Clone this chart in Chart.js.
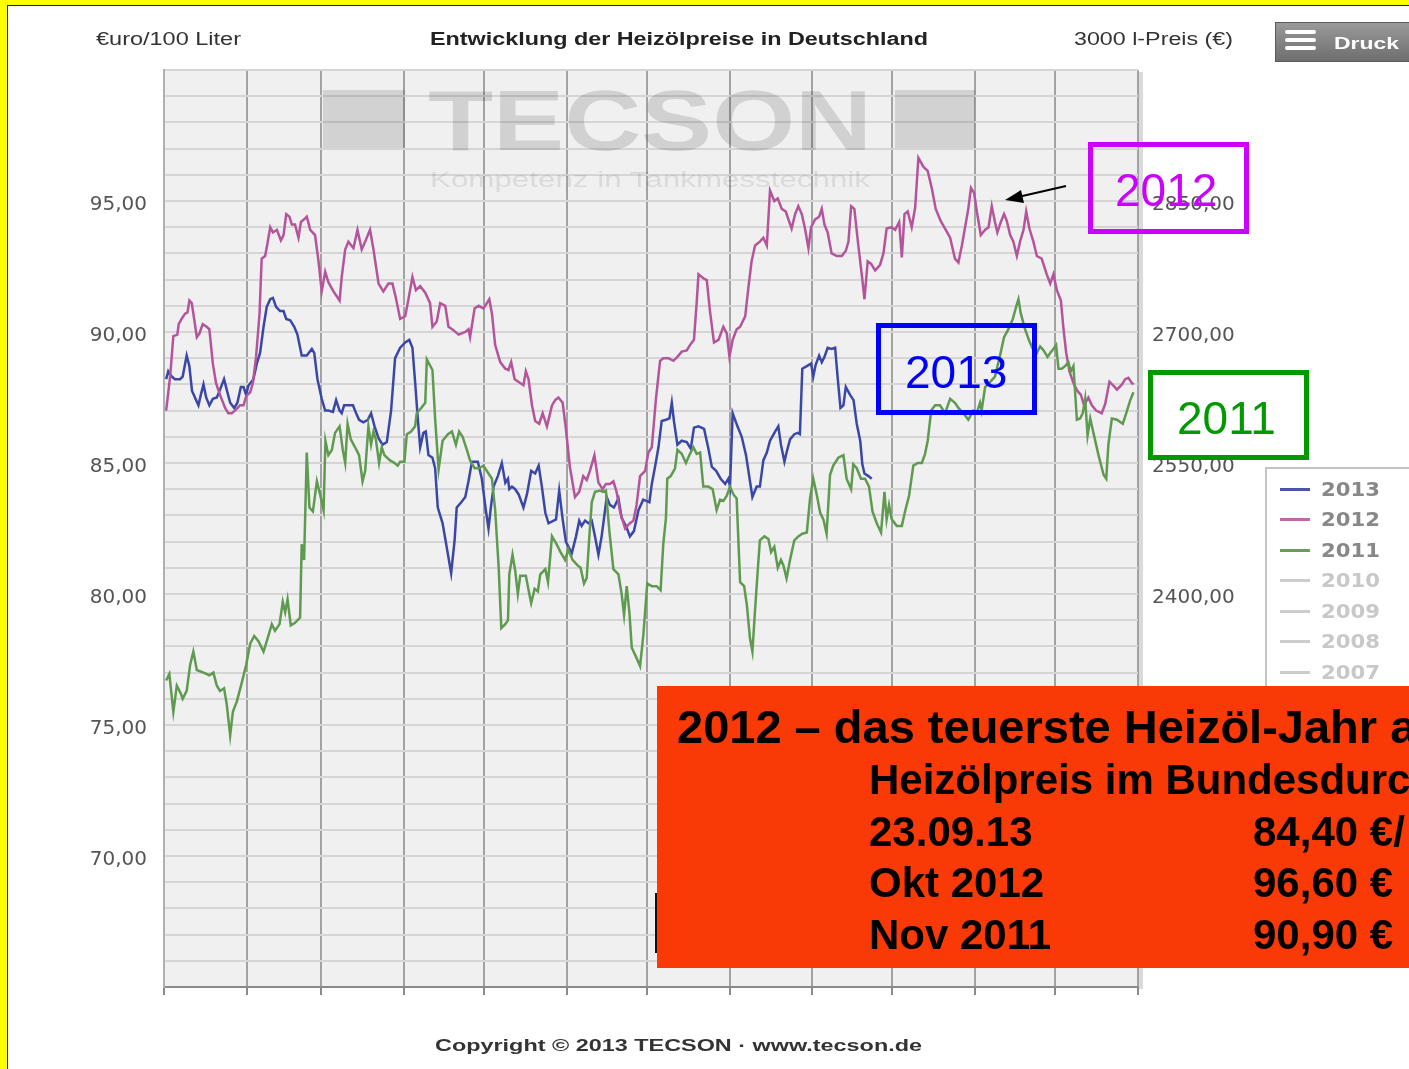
<!DOCTYPE html>
<html>
<head>
<meta charset="utf-8">
<script src="https://cdn.jsdelivr.net/npm/chart.js@4.4.0/dist/chart.umd.min.js"></script>
<style>
html,body{margin:0;padding:0;background:#fff;overflow:hidden;}
#wrap{position:relative;width:1409px;height:1069px;overflow:hidden;background:#fff;}
#chart{position:absolute;left:0;top:0;}
#layer{position:absolute;left:0;top:0;width:1409px;height:1069px;pointer-events:none;}
.abs{position:absolute;}
</style>
</head>
<body>
<div id="wrap">
  <canvas id="chart" width="1409" height="1069"></canvas>
  <div id="layer"></div>
</div>
<script>
// ---------------- data ----------------
const monthStarts = [0, 31, 59, 90, 120, 151, 181, 212, 243, 273, 304, 334, 365];
const leftLabelValues = [70, 75, 80, 85, 90, 95];
const rightLabelValues = [2100, 2250, 2400, 2550, 2700, 2850];
const legendYears = ['2013', '2012', '2011', '2010', '2009', '2008', '2007'];

// [day of year, €/100 l]
const series2013 = [[0.8,88.2],[1.6,88.5],[2.9,88.3],[4.1,88.2],[6,88.2],[7,88.3],[8.5,89.1],[9.5,88.7],[10.5,87.75],[11.6,87.5],[12.9,87.2],[13.8,87.6],[14.8,88.0],[15.8,87.5],[17,87.2],[18.3,87.45],[19.8,87.5],[21,87.8],[22.5,88.2],[23.5,87.8],[24.8,87.3],[26.3,87.1],[27.5,87.3],[28.8,87.9],[29.8,87.9],[30.8,87.6],[31.6,87.95],[33.5,88.2],[34.8,88.8],[36,89.2],[37.3,90.2],[38.5,90.96],[39.8,91.25],[40.8,91.3],[42,90.96],[43.5,90.8],[44.8,90.8],[45.8,90.5],[47.3,90.45],[48.8,90.2],[50,89.9],[51.6,89.1],[53.5,89.1],[55.4,89.35],[56.3,89.2],[57.5,88.2],[59.1,87.45],[60.4,87.0],[61.6,87.0],[63.3,86.95],[64.5,87.4],[65.8,87.0],[66.6,86.9],[67.5,87.2],[69.1,87.2],[70.8,87.2],[72,86.9],[73.1,86.65],[74.7,86.55],[76.4,86.65],[77.6,86.9],[78.9,86.4],[80.4,85.95],[81.9,85.7],[83.5,85.8],[85.1,87.0],[86.6,89.0],[88.5,89.4],[90.4,89.6],[91.9,89.7],[93.1,89.4],[94.1,88.1],[95.1,86.7],[96,85.6],[97.2,86.15],[98.1,86.2],[99.1,85.3],[100.6,85.2],[101.6,84.8],[102.6,83.3],[104.4,82.7],[106,81.75],[107.6,80.8],[108.9,82.05],[109.7,83.3],[111.4,83.5],[112.9,83.7],[114.1,84.3],[115.4,85.05],[117.6,85.05],[119.1,84.4],[120.6,83.2],[121.6,82.5],[122.6,83.4],[123.5,84.1],[125.1,84.5],[126.6,85.0],[127.9,84.25],[128.9,84.4],[129.4,84.0],[130.4,84.1],[131.6,84.0],[132.9,83.8],[134.7,83.3],[136,83.8],[137.6,84.7],[139.1,84.6],[140.4,84.9],[141.6,84.1],[142.9,83.1],[144.1,82.7],[146.9,82.85],[148.1,83.95],[149.4,82.85],[150.6,82.0],[152.8,81.55],[154.4,82.2],[155.6,82.8],[156.5,82.6],[157.8,82.8],[159,82.7],[160.3,82.8],[161.5,82.2],[162.8,81.5],[164,82.2],[164.9,82.9],[165.9,83.7],[167.1,83.4],[168.6,83.3],[170.3,83.65],[171.5,82.9],[173.1,82.6],[174.6,82.2],[176.1,82.4],[177.8,83.2],[179.6,83.6],[181.9,83.5],[182.8,84.2],[184,84.85],[185.3,85.6],[186.5,86.6],[188.1,86.65],[189.4,86.7],[190.3,87.3],[191.1,86.6],[192.4,85.7],[194,85.85],[195.9,85.8],[197.4,85.55],[198.6,86.35],[200.3,86.4],[202.4,86.3],[204,85.55],[205.3,84.85],[206.9,84.7],[208.6,84.4],[210.3,84.2],[211.5,84.4],[212.1,84.1],[213.1,86.9],[214.9,86.4],[216.5,86.0],[218.1,85.3],[219,84.7],[220.5,83.7],[222.1,84.1],[223.3,84.1],[224.6,85.1],[225.9,85.4],[227.1,85.85],[229,86.2],[230.2,86.4],[231.2,85.7],[232.5,85.05],[233.3,85.4],[234.6,85.9],[236.2,86.1],[237.5,86.15],[238.3,86.1],[239.2,88.6],[240.9,88.7],[242.5,88.8],[243.3,88.3],[244.2,88.75],[245.5,89.1],[246.5,88.85],[247.5,89.05],[248.7,89.4],[250.2,89.35],[251.5,89.4],[252.5,88.2],[253.5,87.1],[254.6,87.2],[255.5,87.9],[257.1,87.6],[258.4,87.4],[259.6,86.5],[260.9,85.85],[261.7,84.95],[262.5,84.6],[264,84.5],[265.2,84.4]];

const series2012 = [[0.8,87.0],[2.3,88.3],[3.5,89.84],[5,89.9],[5.5,90.3],[6.6,90.5],[7.9,90.7],[8.8,90.75],[9.5,91.2],[10.4,91.1],[11,90.7],[12.3,89.8],[13.3,89.95],[14.5,90.3],[16,90.2],[17,90.1],[18.3,88.8],[19.5,88.05],[21,87.6],[22.9,87.1],[24.1,86.9],[25.4,86.9],[26.6,87.0],[28.5,87.2],[29.8,87.2],[30.8,87.55],[32.3,87.7],[33.3,88.05],[34.5,89.05],[35.8,90.7],[36.6,92.8],[37.9,92.9],[38.8,93.4],[39.8,94.0],[40.8,93.8],[42.3,93.9],[43.8,93.5],[44.8,93.7],[45.8,94.5],[47,94.4],[47.9,94.1],[49.1,94.1],[50.4,93.6],[51.3,94.2],[52.5,94.3],[53.5,94.4],[54.8,93.9],[56.6,93.7],[57.9,92.7],[59.1,91.55],[60.4,92.3],[61.6,91.9],[63.5,91.55],[65.8,91.2],[66.6,92.1],[67.9,93.15],[69.1,93.45],[71,93.2],[72.5,93.9],[74.1,93.15],[75.4,93.45],[77.2,93.9],[78.5,93.15],[80.4,91.85],[82.2,91.55],[84.1,91.85],[85.6,91.85],[86.9,91.3],[88.5,90.5],[90.4,90.6],[91.6,91.25],[93.1,92.1],[94.4,91.6],[96,91.75],[97.9,91.5],[99.7,91.1],[100.6,90.2],[102.2,90.4],[103.5,91.1],[105.4,91.0],[106.6,90.2],[108.1,90.1],[110.4,89.9],[112.9,90.0],[114.1,90.1],[114.7,89.8],[116.4,90.9],[117.9,91.0],[119.7,90.9],[121,91.1],[121.9,91.25],[122.9,90.7],[124.1,89.5],[126,88.85],[127.9,88.6],[129.1,88.55],[130.1,88.85],[131.4,88.2],[133.5,88.05],[134.7,87.97],[135.6,88.5],[136.6,88.2],[137.9,87.2],[139.1,86.6],[140.6,86.5],[141.9,86.9],[143.5,86.4],[145.4,87.2],[146.6,87.4],[147.8,87.5],[149.4,87.3],[150.6,86.3],[152.1,84.85],[154,83.7],[155.6,83.9],[157.1,84.5],[158.4,84.35],[159.6,84.7],[161.3,85.3],[162.8,84.25],[164.4,84.0],[165.6,84.2],[167.1,84.2],[168.4,84.3],[169.6,83.9],[170.9,83.15],[172.8,82.5],[174.6,82.7],[175.9,82.8],[177.1,83.4],[178.4,84.5],[180.3,84.7],[181.5,85.4],[182.8,85.6],[184.4,87.5],[185.9,88.9],[187.1,89.0],[189,89.0],[190.9,88.9],[192.4,89.05],[194,89.25],[195.9,89.3],[197.1,89.5],[198.6,89.7],[199.6,91.1],[200.3,92.2],[202.1,92.05],[203.4,91.98],[204.6,90.8],[206.1,89.6],[207.8,89.7],[209.6,90.2],[210.9,89.95],[211.9,89.05],[213.1,89.7],[214.6,90.1],[215.9,90.2],[217.8,90.6],[219,91.7],[220.2,92.7],[221.5,93.3],[223.3,93.45],[224.6,93.6],[225.9,93.3],[227.1,95.4],[228.7,95.0],[230,95.1],[231.5,94.7],[233,94.6],[234,94.3],[235.2,93.95],[236.5,94.5],[237.7,94.8],[239,94.5],[240.2,93.95],[241.5,93.2],[242.5,94.0],[244,94.3],[245.5,94.4],[246.5,94.7],[247.5,94.1],[248.7,93.8],[250.2,93.0],[252.1,92.9],[254,92.9],[255.5,93.1],[256.5,93.45],[257.5,94.8],[258.7,94.7],[260.2,93.3],[261.7,92.0],[262.5,91.25],[263.7,92.7],[265,92.6],[266.5,92.35],[268.3,92.55],[269.6,93.0],[270.8,93.95],[272.7,94.0],[274,93.9],[275.5,94.2],[276.5,92.85],[277.5,94.5],[278.7,94.6],[280.2,94.0],[281.5,94.75],[282.7,96.65],[284.6,96.3],[286.2,96.15],[287.7,95.5],[289.2,94.7],[291,94.25],[292.7,93.95],[294.6,93.6],[296.4,92.8],[297.7,92.65],[299,93.3],[300.2,94.0],[301.4,94.7],[302.4,95.5],[303.6,95.3],[304.6,94.6],[306.1,93.7],[307.7,93.9],[309,94.0],[310.2,94.8],[311.4,94.2],[312.3,93.8],[313.6,94.2],[314.8,94.5],[315.8,94.25],[317.1,93.7],[318.3,93.45],[319.6,92.9],[320.8,93.45],[322.1,93.9],[323.1,94.6],[324.3,93.95],[325.8,93.45],[327.1,92.9],[328.9,92.8],[330.8,92.2],[332.1,91.85],[333.3,92.2],[334.6,91.6],[336.1,91.2],[337.1,90.1],[338.1,89.2],[339.3,88.5],[340.8,88.05],[342.3,87.75],[343.6,87.6],[344.8,87.2],[346.4,87.5],[347.7,87.2],[349.3,87.0],[351.4,86.9],[352.7,87.25],[354.3,88.1],[355.8,87.95],[357.1,87.8],[359,88.0],[360.2,88.2],[361.4,88.25],[362.7,88.05],[363.3,88.0]];

const series2011 = [[0.8,76.7],[2,76.95],[3.5,75.5],[4.8,76.5],[6.3,76.2],[7,76.0],[8.5,76.3],[9.8,77.3],[11,77.8],[12.3,77.1],[14.8,77.0],[17,76.9],[18.5,77.0],[19.8,76.5],[21,76.3],[22.5,76.4],[23.5,75.8],[24.8,74.6],[25.8,75.5],[27.3,75.9],[29.1,76.6],[30.8,77.3],[32.3,78.1],[33.8,78.4],[35.4,78.2],[37.3,77.8],[38.8,78.3],[40.4,78.85],[41.6,78.6],[43.3,78.85],[44.5,79.7],[45.4,79.3],[46.3,79.8],[47.5,78.8],[49.1,78.9],[51,79.1],[51.6,81.9],[52.5,81.3],[53.5,85.4],[54.5,83.3],[55.8,83.15],[57.3,84.3],[58.5,83.8],[59.8,83.2],[60.5,85.85],[61.6,85.3],[62.9,85.5],[64.1,86.15],[65.8,86.4],[67,85.5],[67.9,85.0],[68.8,86.5],[70,85.9],[71.6,85.6],[73.1,85.3],[74.4,84.3],[75.4,84.7],[76.6,86.4],[77.6,85.7],[78.5,86.2],[79.4,85.9],[80.6,85.0],[81.6,85.6],[82.6,85.3],[84.7,85.1],[86.4,85.0],[87.6,84.9],[88.5,85.05],[90.1,85.05],[91,86.1],[92.6,86.2],[94.1,86.4],[94.7,86.9],[96.4,87.1],[97.9,87.3],[98.5,88.95],[100.6,88.55],[101.6,86.7],[102.9,84.75],[104.4,85.85],[106.4,86.1],[107.9,86.2],[109.4,85.7],[110.6,86.2],[111.9,86.0],[113.5,85.5],[114.7,85.1],[116.4,84.8],[118.1,84.8],[119.7,84.9],[121.6,84.6],[122.9,84.4],[124.1,83.2],[125.4,81.05],[126.4,78.7],[127.9,78.85],[128.9,79.0],[129.4,80.75],[130.6,81.5],[131.6,80.9],[132.6,80.0],[133.5,80.7],[135.6,80.7],[136.9,80.0],[137.6,79.65],[138.9,80.2],[140.1,80.1],[141,80.75],[142.9,80.95],[143.9,80.45],[145.4,82.2],[147.1,81.9],[148.6,81.6],[150.3,81.3],[151.5,81.7],[153.1,81.3],[154.9,81.1],[156.1,81.0],[157.4,80.4],[158.4,80.6],[159.4,82.2],[160.3,83.5],[161.5,83.9],[163.4,83.95],[164.6,83.9],[165.6,83.95],[166.9,82.4],[168.4,80.95],[170.3,80.75],[171.5,80.0],[172.4,79.2],[173.4,80.3],[174.4,79.3],[175.3,77.95],[176.9,77.6],[178.4,77.25],[179.6,78.4],[181.1,80.4],[182.8,80.3],[184.6,80.3],[186.1,80.15],[187.1,81.9],[188.1,82.9],[188.6,84.4],[189.9,84.5],[191.5,84.8],[192.4,85.5],[194,85.35],[195.6,85.0],[197.1,85.35],[198.4,85.6],[199.6,85.35],[200.9,85.4],[202.1,84.1],[204,84.1],[205.6,84.0],[207.1,83.2],[208.4,83.6],[209.6,83.55],[210.9,83.75],[212.1,84.1],[213.4,83.8],[214.6,83.65],[215.9,80.45],[217.4,80.3],[218.4,79.6],[219.6,78.3],[220.5,77.8],[221.5,79.4],[222.5,80.9],[223.3,82.05],[225,82.2],[226.5,82.1],[227.5,81.6],[228.7,81.8],[230,81.0],[231.2,81.3],[232.1,81.1],[233.3,80.6],[234.6,81.3],[236.2,82.05],[237.7,82.2],[239.2,82.3],[240.9,82.35],[242.1,83.65],[243.3,84.4],[244.6,83.8],[245.9,83.1],[247.1,82.85],[248.3,82.3],[249.6,84.55],[250.8,84.9],[252.7,85.2],[254.6,85.3],[255.8,84.4],[257.5,84.0],[258.3,84.95],[259.6,84.8],[261.2,84.4],[262.7,84.4],[264.2,84.1],[265.5,83.15],[267.1,82.7],[268.7,82.35],[270,83.9],[270.8,82.85],[271.7,83.4],[272.7,82.85],[274.6,82.6],[276.5,82.6],[277.7,83.15],[279.2,83.75],[280.8,84.9],[282.5,85.0],[284,85.0],[285.2,85.35],[286.2,85.85],[287.5,87.0],[289,87.2],[290.8,87.2],[292.7,86.9],[294.6,87.45],[296.4,87.3],[297.7,87.1],[299.6,86.9],[301.4,86.65],[303.3,87.0],[304.6,86.9],[305.8,87.3],[306.4,87.0],[307.7,87.9],[309.6,88.1],[311.4,88.3],[313.3,89.1],[314.8,89.8],[316.4,90.1],[318.1,90.5],[319.3,90.95],[320.2,91.25],[321.1,90.7],[322.7,90.1],[324.3,89.65],[325.6,89.35],[327.1,89.2],[328.3,89.45],[329.6,89.3],[331.1,89.05],[332.1,89.2],[333.3,89.35],[334.3,89.5],[335.2,88.6],[336.4,88.6],[337.7,88.7],[338.9,88.85],[339.8,88.5],[340.8,88.7],[342.1,86.65],[343.3,86.7],[344.3,86.9],[345.2,87.45],[346.1,86.05],[347.1,86.7],[348.3,86.15],[350.2,85.3],[352.1,84.55],[353.1,84.4],[353.9,85.7],[355.2,86.7],[357.1,86.65],[359.3,86.5],[360.6,86.9],[362.1,87.4],[363.3,87.7]];

// ---------------- chart ----------------
const fmt = v => v.toFixed(2).replace('.', ',');
const toXY = s => s.map(p => ({x: p[0], y: p[1]}));

const bgPlugin = {
  id: 'plotBg',
  beforeDraw(chart) {
    const a = chart.chartArea, c = chart.ctx;
    c.save();
    c.fillStyle = '#dadada';
    c.fillRect(a.right, a.top + 2, 5, a.bottom - a.top);
    c.fillStyle = '#f0f0f0';
    c.fillRect(a.left, a.top, a.right - a.left, a.bottom - a.top);
    c.restore();
  }
};

new Chart(document.getElementById('chart'), {
  type: 'line',
  data: {
    datasets: [
      {label: '2011', data: toXY(series2011), borderColor: '#5f9a50', borderWidth: 2.5, pointRadius: 0, tension: 0, yAxisID: 'y'},
      {label: '2012', data: toXY(series2012), borderColor: '#b4559b', borderWidth: 2.5, pointRadius: 0, tension: 0, yAxisID: 'y'},
      {label: '2013', data: toXY(series2013), borderColor: '#3b47a6', borderWidth: 2.5, pointRadius: 0, tension: 0, yAxisID: 'y'}
    ]
  },
  plugins: [bgPlugin],
  options: {
    responsive: false,
    animation: false,
    devicePixelRatio: 1,
    layout: {padding: {left: 10, right: 0, top: 70, bottom: 74}},
    plugins: {legend: {display: false}, tooltip: {enabled: false}},
    scales: {
      x: {
        type: 'linear', min: 0, max: 365,
        afterBuildTicks: s => { s.ticks = monthStarts.map(v => ({value: v})); },
        afterFit: s => { s.height = 8; },
        ticks: {display: false, autoSkip: false},
        grid: {color: '#a2a2a2', lineWidth: 2, tickLength: 8, tickColor: '#8a8a8a', drawTicks: true},
        border: {display: true, color: '#8a8a8a', width: 2}
      },
      y: {
        position: 'left', min: 65, max: 100,
        afterFit: s => { s.width = 154; },
        ticks: {stepSize: 1, autoSkip: false, padding: 17, labelOffset: 4, color: '#555',
          font: {family: '"DejaVu Sans", Verdana, sans-serif', size: 20},
          callback: v => leftLabelValues.includes(v) ? fmt(v) : ''},
        grid: {color: '#d5d5d5', lineWidth: 2, drawTicks: false},
        border: {display: true, color: '#b0b0b0', width: 2}
      },
      y2: {
        position: 'right', min: 1950, max: 3000,
        afterFit: s => { s.width = 271; },
        ticks: {stepSize: 150, autoSkip: false, padding: 14, labelOffset: 4, color: '#555',
          font: {family: '"DejaVu Sans", Verdana, sans-serif', size: 20},
          callback: v => rightLabelValues.includes(v) ? fmt(v) : ''},
        grid: {drawOnChartArea: false, drawTicks: false},
        border: {display: false}
      }
    }
  }
});

// ---------------- overlay texts ----------------
const layer = document.getElementById('layer');
function box(css) { const d = document.createElement('div'); d.className = 'abs'; d.style.cssText += css; layer.appendChild(d); return d; }
function txt(t, o) {
  const d = document.createElement('div');
  d.className = 'abs';
  d.textContent = t;
  const fam = o.family || '"Liberation Sans", Arial, sans-serif';
  d.style.cssText += `white-space:nowrap;left:${o.left}px;top:${o.capTop - 0.13 * o.fs}px;font-family:${fam};font-size:${o.fs}px;font-weight:${o.weight || 'normal'};line-height:1;color:${o.color};transform-origin:0 0;`;
  layer.appendChild(d);
  if (o.right) {
    const w = d.getBoundingClientRect().width;
    d.style.transform = `scaleX(${(o.right - o.left) / w})`;
  }
  return d;
}

// yellow frame
box('left:0;top:0;width:1409px;height:5px;background:#ffff00;');
box('left:0;top:0;width:7px;height:1069px;background:#ffff00;');
box('left:7px;top:5px;width:1402px;height:1px;background:#222;');
box('left:7px;top:5px;width:1px;height:1064px;background:#222;');

// header
txt('€uro/100 Liter', {left: 96, right: 241, capTop: 32, fs: 18, color: '#333'});
txt('Entwicklung der Heizölpreise in Deutschland', {left: 430, right: 928, capTop: 32, fs: 18, weight: 'bold', color: '#222'});
txt('3000 l-Preis (€)', {left: 1074, right: 1233, capTop: 32, fs: 18, color: '#333'});
// Druck button
box('left:1275px;top:22px;width:140px;height:40px;background:linear-gradient(#9a9a9a,#6e6e6e);border:1px solid #5a5a5a;box-sizing:border-box;');
box('left:1285px;top:30px;width:31px;height:4px;background:#fff;border-radius:2px;');
box('left:1285px;top:38px;width:31px;height:4px;background:#fff;border-radius:2px;');
box('left:1285px;top:46px;width:31px;height:4px;background:#fff;border-radius:2px;');
txt('Druck', {left: 1334, right: 1399, capTop: 37, fs: 17, weight: 'bold', color: '#fff'});

// watermark
box('left:323px;top:90px;width:82px;height:58px;background:rgba(0,0,0,0.12);');
box('left:895px;top:90px;width:80px;height:58px;background:rgba(0,0,0,0.12);');
txt('TECSON', {left: 428, right: 872, capTop: 88, fs: 86, weight: 'bold', color: 'rgba(0,0,0,0.13)'});
txt('Kompetenz in Tankmesstechnik', {left: 430, right: 870, capTop: 172, fs: 22, color: 'rgba(0,0,0,0.09)'});

// annotation boxes
box('left:1088px;top:142px;width:161px;height:92px;border:5px solid #cc00ff;box-sizing:border-box;');
txt('2012', {left: 1115, capTop: 173, fs: 46, color: '#cc00ff'});
box('left:876px;top:323px;width:161px;height:92px;border:5px solid #0000ff;box-sizing:border-box;');
txt('2013', {left: 905, capTop: 355, fs: 46, color: '#0000ff'});
box('left:1148px;top:370px;width:161px;height:90px;border:5px solid #009900;box-sizing:border-box;');
txt('2011', {left: 1177, capTop: 401, fs: 46, color: '#009900'});

// arrow
layer.insertAdjacentHTML('beforeend',
  '<svg class="abs" style="left:0;top:0" width="1409" height="1069"><line x1="1066" y1="186" x2="1018" y2="197" stroke="#000" stroke-width="2"/><polygon points="1005,200 1021,190 1024,203" fill="#000"/></svg>');

// legend
box('left:1265px;top:467px;width:150px;height:230px;background:#fff;border-left:2px solid #c4c4c4;border-top:2px solid #c4c4c4;');
const legendLine = ['#4a55aa', '#c06aa2', '#6a9c5a', '#cccccc', '#cccccc', '#cccccc', '#cccccc'];
const legendText = ['#888', '#888', '#888', '#c8c8c8', '#c8c8c8', '#c8c8c8', '#c8c8c8'];
legendYears.forEach((y, i) => {
  const cy = 489 + i * 30.5;
  box(`left:1280px;top:${cy - 1.5}px;width:30px;height:3px;background:${legendLine[i]};`);
  txt(y, {left: 1321, right: 1380, capTop: cy - 7.5, fs: 20, weight: 'bold', color: legendText[i], family: '"DejaVu Sans", Verdana, sans-serif'});
});

// red info box
box('left:655px;top:893px;width:4px;height:60px;background:#111;');
box('left:657px;top:686px;width:760px;height:282px;background:#f93a06;');
txt('2012 – das teuerste Heizöl-Jahr a', {left: 677, capTop: 709, fs: 47, weight: 'bold', color: '#000'});
txt('Heizölpreis im Bundesdurc', {left: 869, capTop: 764, fs: 42, weight: 'bold', color: '#000'});
txt('23.09.13', {left: 869, capTop: 816, fs: 42, weight: 'bold', color: '#000'});
txt('84,40 €/', {left: 1253, capTop: 816, fs: 42, weight: 'bold', color: '#000'});
txt('Okt 2012', {left: 869, capTop: 867, fs: 42, weight: 'bold', color: '#000'});
txt('96,60 €', {left: 1253, capTop: 867, fs: 42, weight: 'bold', color: '#000'});
txt('Nov 2011', {left: 869, capTop: 919, fs: 42, weight: 'bold', color: '#000'});
txt('90,90 €', {left: 1253, capTop: 919, fs: 42, weight: 'bold', color: '#000'});

// copyright
txt('Copyright © 2013 TECSON · www.tecson.de', {left: 435, right: 922, capTop: 1039, fs: 17, weight: 'bold', color: '#333'});
</script>
</body>
</html>
